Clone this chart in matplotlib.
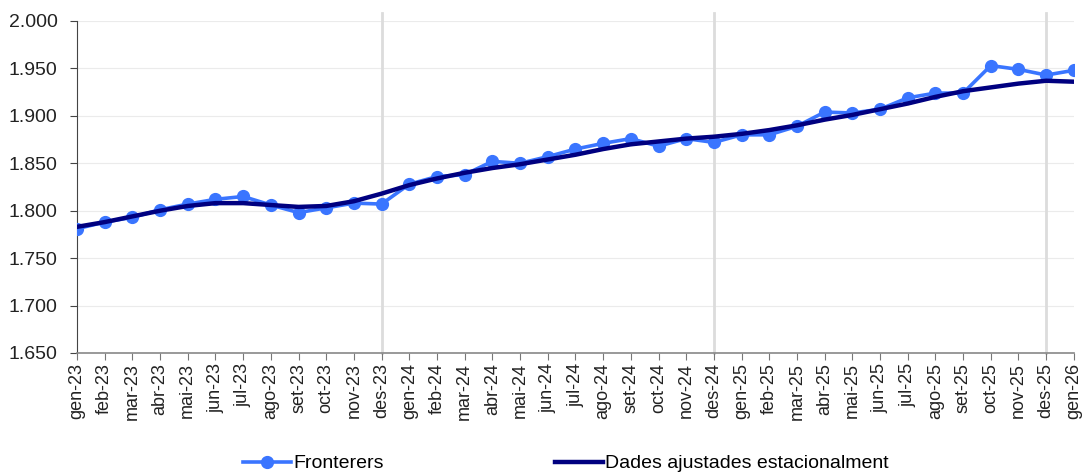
import matplotlib.pyplot as plt
import numpy as np

plt.rcParams['font.family'] = ['Liberation Sans', 'DejaVu Sans']

months = ["gen", "feb", "mar", "abr", "mai", "jun", "jul", "ago", "set", "oct", "nov", "des"]
labels = [f"{m}-{y}" for y in ["23", "24", "25"] for m in months] + ["gen-26"]

# Fronterers (milers)
fronterers = [1.781, 1.788, 1.793, 1.801, 1.807, 1.812, 1.815, 1.806, 1.798, 1.803, 1.808, 1.807,
              1.828, 1.836, 1.838, 1.852, 1.850, 1.857, 1.865, 1.871, 1.876, 1.868, 1.876, 1.872,
              1.880, 1.880, 1.889, 1.904, 1.903, 1.907, 1.919, 1.924, 1.924, 1.953, 1.949, 1.943,
              1.948]
# Dades ajustades estacionalment
ajustades = [1.783, 1.788, 1.794, 1.800, 1.805, 1.808, 1.808, 1.806, 1.804, 1.805, 1.810, 1.818,
             1.827, 1.834, 1.840, 1.845, 1.849, 1.854, 1.859, 1.865, 1.870, 1.873, 1.876, 1.878,
             1.881, 1.885, 1.890, 1.896, 1.901, 1.907, 1.913, 1.920, 1.926, 1.930, 1.934, 1.937,
             1.936]
year_ends = ["des-23", "des-24", "des-25"]

x = np.arange(len(labels))

fig = plt.figure(figsize=(10.88, 4.74), dpi=100)
ax = fig.add_axes([0.0708, 0.2553, 0.9162, 0.7004])

for yv in np.arange(1.65, 2.0001, 0.05):
    ax.axhline(yv, color="#ebebeb", lw=0.8, zorder=0)
for lab in year_ends:
    ax.axvline(labels.index(lab), ymin=0, ymax=1.025, color="#dcdcdc", lw=2, zorder=1, clip_on=False)

ax.plot(x, fronterers, color="#3a75ff", lw=2.6, marker="o", ms=8.5, label="Fronterers", zorder=3)
ax.plot(x, ajustades, color="#000080", lw=3.2, label="Dades ajustades estacionalment", zorder=4)

ax.set_xlim(0, len(labels) - 1)
ax.set_ylim(1.65, 2.0)
ax.set_yticks(np.arange(1.65, 2.0001, 0.05))
ax.set_yticklabels([f"{v:.3f}" for v in np.arange(1.65, 2.0001, 0.05)])
ax.set_xticks(x)
ax.set_xticklabels(labels, rotation=90)
ax.tick_params(axis="both", colors="#222222", direction="out")
ax.tick_params(axis="x", labelsize=13, length=5, color="#777777", pad=2)
ax.tick_params(axis="y", labelsize=14, length=5, color="#444444", pad=9)

ax.spines["top"].set_visible(False)
ax.spines["right"].set_visible(False)
ax.spines["left"].set_color("#444444")
ax.spines["bottom"].set_color("#888888")
ax.spines["bottom"].set_linewidth(1.2)

fig.legend(loc="center", bbox_to_anchor=(0.52, 0.022), ncol=2, frameon=False, fontsize=14,
           handlelength=2.5, handletextpad=0.1, columnspacing=8.8)

fig.savefig("out.png", dpi=100)
